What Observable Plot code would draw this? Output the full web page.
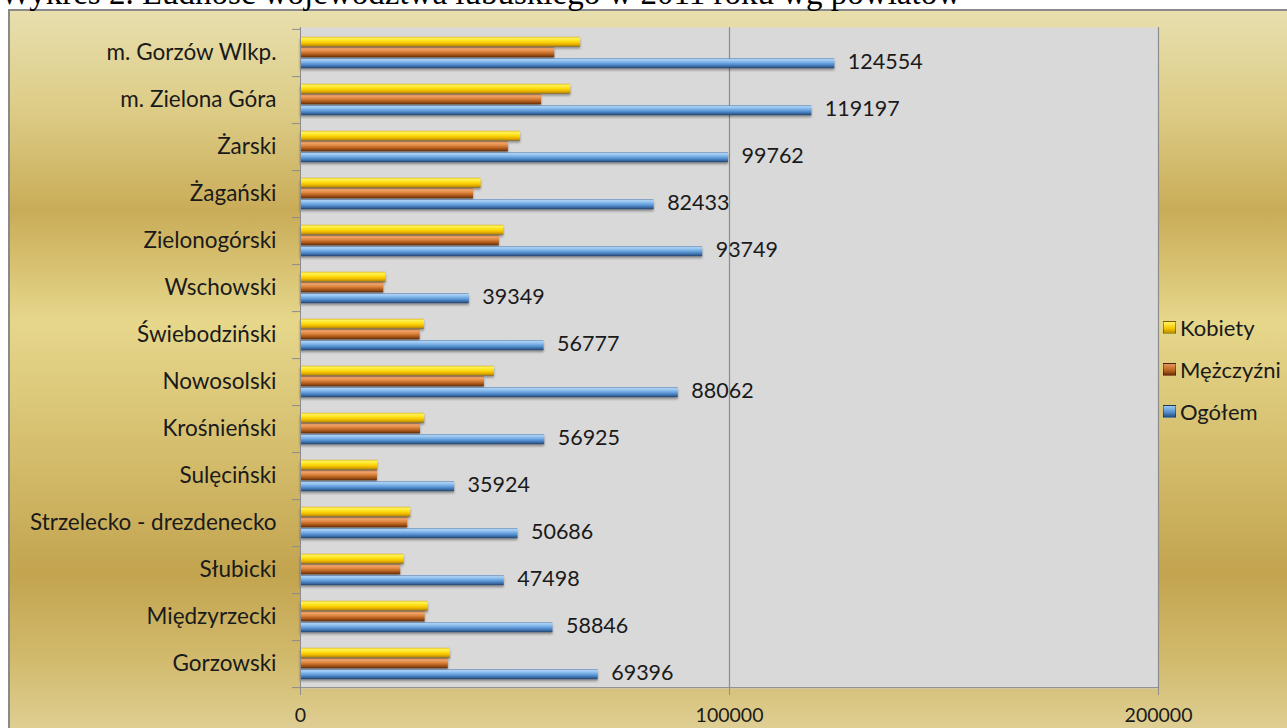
<!DOCTYPE html>
<html><head><meta charset="utf-8">
<script src="https://cdn.jsdelivr.net/npm/d3@7"></script>
<script src="https://cdn.jsdelivr.net/npm/@observablehq/plot@0.6"></script>
<style>
html,body{margin:0;padding:0;background:#fff;overflow:hidden;}
#wrap{position:relative;width:1287px;height:728px;overflow:hidden;}
#title{position:absolute;left:0px;top:-22.6px;font-family:"Liberation Serif",serif;font-size:33px;line-height:33px;white-space:nowrap;color:#000;}
#frame{position:absolute;left:8px;top:9px;width:1300px;height:740px;border-left:2px solid #8a8a8a;border-top:2px solid #8a8a8a;
background:linear-gradient(to bottom,#e8dfae 0%,#dccb84 14%,#c9ac58 27%,#e6d78b 42%,#d6c070 58%,#c3a44f 76%,#d2bb6e 88%,#e3d59f 100%);}
#chart{position:absolute;left:0;top:0;}
#legend{position:absolute;left:1163px;top:306px;font-family:Lato,sans-serif;font-size:22px;color:#1a1a1a;}
#legend .it{display:flex;align-items:center;height:42px;}
#legend .sw{width:11px;height:11px;margin-right:4px;border:1px solid rgba(0,0,0,0.35);}
</style></head>
<body>
<div id="wrap">
  <div id="frame"></div>
  <div id="title">Wykres 2. Ludność województwa lubuskiego w 2011 roku wg powiatów</div>
  <div id="chart"></div>
  <div id="legend"></div>
</div>
<script>
const categories = ["m. Gorzów Wlkp.","m. Zielona Góra","Żarski","Żagański","Zielonogórski","Wschowski","Świebodziński","Nowosolski","Krośnieński","Sulęciński","Strzelecko - drezdenecko","Słubicki","Międzyrzecki","Gorzowski"];
const ogolem    = [124554,119197,99762,82433,93749,39349,56777,88062,56925,35924,50686,47498,58846,69396];
const kobiety   = [65300,63000,51300,42100,47400,19950,28900,45200,28950,18000,25700,24150,29800,34950];
const mezczyzni = [59254,56197,48462,40333,46349,19399,27877,42862,27975,17924,24986,23348,29046,34446];
const seriesNames = ["Kobiety","Mężczyźni","Ogółem"];
const xTicks = [0,100000,200000];

const rows = categories.map((c,i)=>({c, k:kobiety[i], m:mezczyzni[i], o:ogolem[i]}));

const W=1287,H=728, mL=300, mR=129, mT=27, mB=40;
const band = (H-mT-mB)/categories.length;
const bh = 10;
const tops = [7.8, 18.5, 29.4];
const inset = t => ({insetTop:t, insetBottom: band - t - bh});
const barFilter = "drop-shadow(0px 2px 1.2px rgba(0,0,0,0.35))";

const chart = Plot.plot({
  width:W, height:H,
  marginLeft:mL, marginRight:mR, marginTop:mT, marginBottom:mB,
  style:{background:"transparent", fontFamily:"Lato, sans-serif", fontSize:"21px", color:"#1a1a1a", overflow:"visible"},
  x:{domain:[0,200000], label:null},
  y:{domain:categories, padding:0, label:null},
  marks:[
    Plot.frame({fill:"#d9d9d9", stroke:"none"}),
    Plot.ruleX(xTicks.slice(1), {stroke:"#8c8c8c", strokeWidth:1.2}),
    Plot.barX(rows,{x:"k", y:"c", fill:"url(#gY)", ...inset(tops[0])}),
    Plot.barX(rows,{x:"m", y:"c", fill:"url(#gB)", ...inset(tops[1])}),
    Plot.barX(rows,{x:"o", y:"c", fill:"url(#gO)", ...inset(tops[2])}),
    Plot.text(rows,{x:"o", y:"c", text:d=>String(d.o), dx:13, dy:9.5, textAnchor:"start", fontSize:21.5, fill:"#1a1a1a"}),
    Plot.ruleX([0], {stroke:"#8c8c8c"}),
    Plot.ruleY([categories[categories.length-1]], {x1:0, x2:200000, dy:band/2, stroke:"#8c8c8c"}),
    Plot.axisY({tickSize:8, text:null, dy:band/2, stroke:"#8c8c8c"}),
    Plot.axisY([categories[0]], {tickSize:8, text:null, dy:-band/2, stroke:"#8c8c8c"}),
    Plot.axisY({tickSize:0, tickPadding:24, fontSize:22.5, fill:"#1a1a1a"}),
    Plot.axisX({ticks:xTicks, tickSize:7, tickPadding:13, stroke:"#8c8c8c", fontSize:19.5, fill:"#1a1a1a", tickFormat:d=>String(d)})
  ]
});

const defs = `
<defs>
<linearGradient id="gY" x1="0" y1="0" x2="0" y2="1">
 <stop offset="0" stop-color="#d9a400"/><stop offset="0.12" stop-color="#fff460"/><stop offset="0.4" stop-color="#ffe31c"/>
 <stop offset="0.65" stop-color="#f6c500"/><stop offset="0.88" stop-color="#cf9a00"/><stop offset="1" stop-color="#8a6400"/>
</linearGradient>
<linearGradient id="gB" x1="0" y1="0" x2="0" y2="1">
 <stop offset="0" stop-color="#a0521a"/><stop offset="0.12" stop-color="#f3a66c"/><stop offset="0.4" stop-color="#de8842"/>
 <stop offset="0.65" stop-color="#b8621f"/><stop offset="0.88" stop-color="#864010"/><stop offset="1" stop-color="#552707"/>
</linearGradient>
<linearGradient id="gO" x1="0" y1="0" x2="0" y2="1">
 <stop offset="0" stop-color="#4a7ebc"/><stop offset="0.12" stop-color="#acd3f6"/><stop offset="0.4" stop-color="#79b0e6"/>
 <stop offset="0.65" stop-color="#4f8bcb"/><stop offset="0.88" stop-color="#335e94"/><stop offset="1" stop-color="#213e66"/>
</linearGradient>
</defs>`;
chart.insertAdjacentHTML("afterbegin", defs);
d3.select(chart).selectAll("g[aria-label='bar']").style("filter", barFilter);

document.getElementById("chart").appendChild(chart);

const legCols = {"Kobiety":"linear-gradient(#fff460,#f6c500 60%,#b88a00)","Mężczyźni":"linear-gradient(#e8955a,#b8621f 60%,#6a3009)","Ogółem":"linear-gradient(#9cc8f0,#4f8bcb 60%,#284c7c)"};
const leg = d3.select("#legend");
seriesNames.forEach(n=>{
  const it = leg.append("div").attr("class","it");
  it.append("div").attr("class","sw").style("background", legCols[n]);
  it.append("span").text(n);
});
</script>
</body></html>
